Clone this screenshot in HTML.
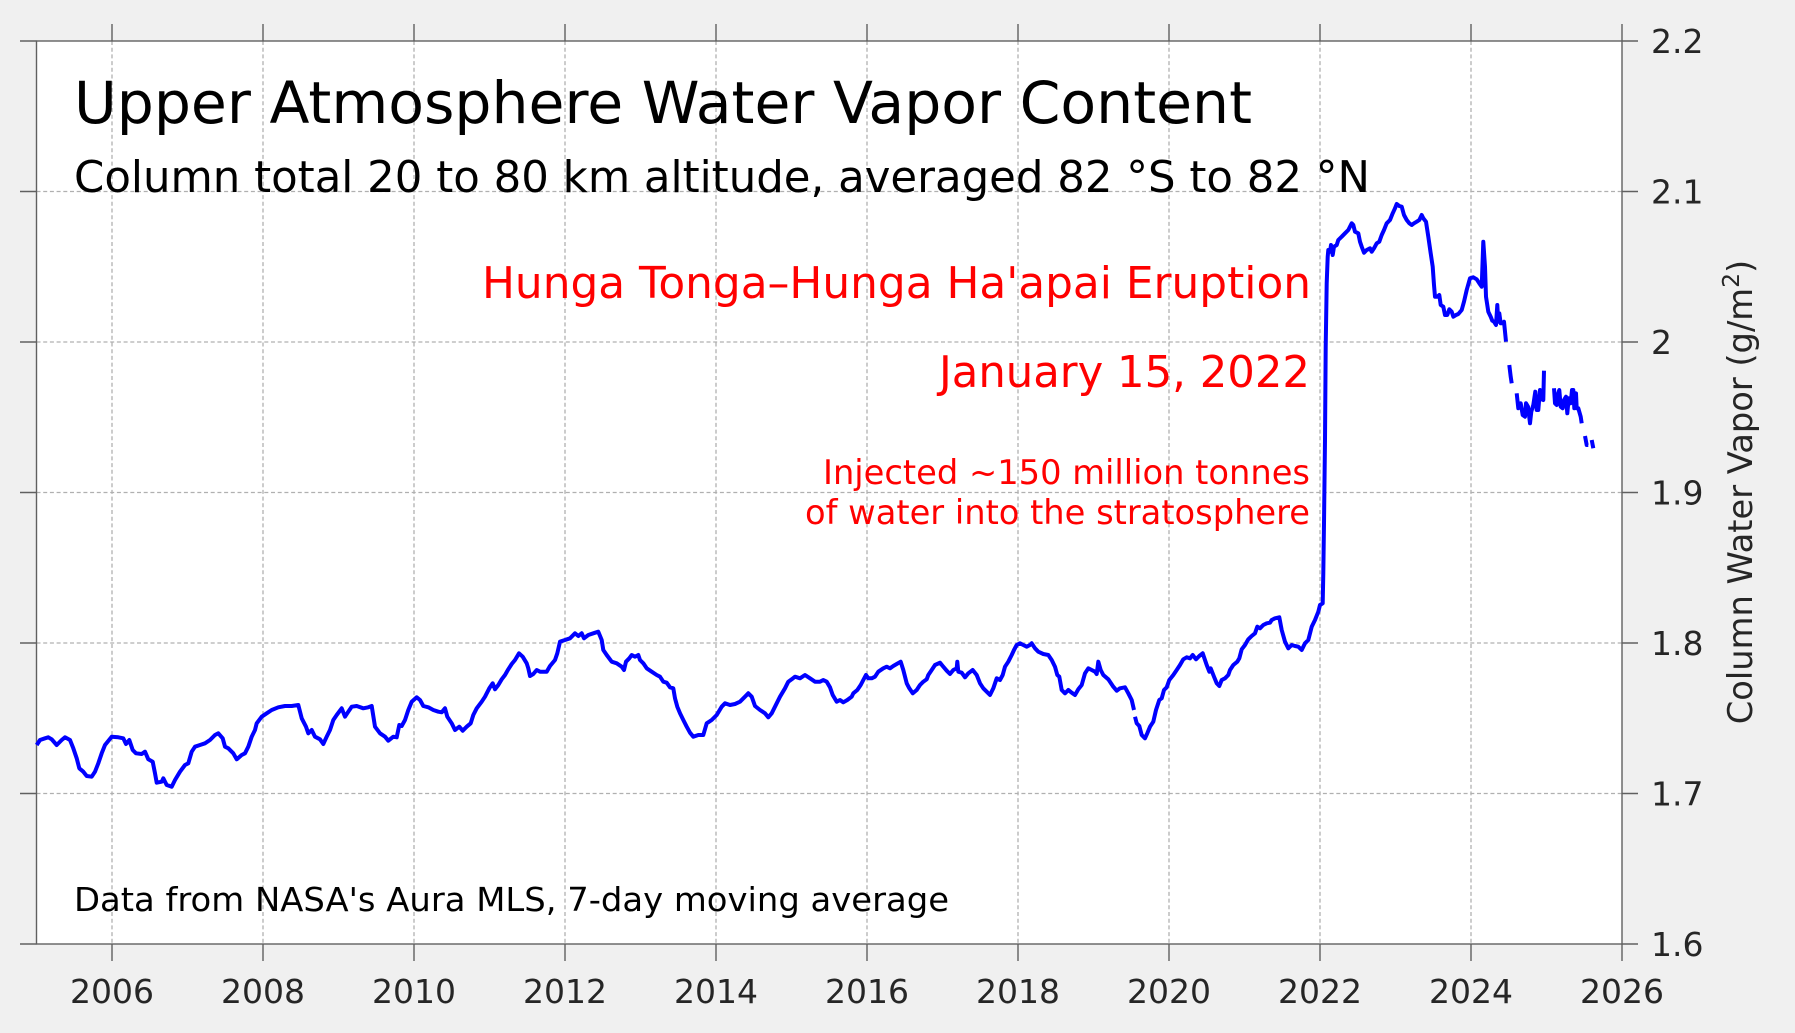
<!DOCTYPE html>
<html><head><meta charset="utf-8"><style>
html,body{margin:0;padding:0;background:#f0f0f0;}
svg{display:block;}
text{font-family:"DejaVu Sans","Liberation Sans",sans-serif;}
</style></head><body>
<svg width="1795" height="1033" viewBox="0 0 1795 1033" xmlns="http://www.w3.org/2000/svg">
<rect x="0" y="0" width="1795" height="1033" fill="#f0f0f0"/>
<rect x="36.5" y="41" width="1585.5" height="903" fill="#ffffff"/>
<g stroke="#b0b0b0" stroke-width="1.3" stroke-dasharray="4 2.7" fill="none">
<line x1="112" y1="41" x2="112" y2="944"/>
<line x1="263" y1="41" x2="263" y2="944"/>
<line x1="414" y1="41" x2="414" y2="944"/>
<line x1="565" y1="41" x2="565" y2="944"/>
<line x1="716" y1="41" x2="716" y2="944"/>
<line x1="867" y1="41" x2="867" y2="944"/>
<line x1="1018" y1="41" x2="1018" y2="944"/>
<line x1="1169" y1="41" x2="1169" y2="944"/>
<line x1="1320" y1="41" x2="1320" y2="944"/>
<line x1="1471" y1="41" x2="1471" y2="944"/>
<line x1="36.5" y1="191.5" x2="1622" y2="191.5"/>
<line x1="36.5" y1="342" x2="1622" y2="342"/>
<line x1="36.5" y1="492.5" x2="1622" y2="492.5"/>
<line x1="36.5" y1="643" x2="1622" y2="643"/>
<line x1="36.5" y1="793.5" x2="1622" y2="793.5"/>
</g>
<g stroke="#606060" stroke-width="1.4" fill="none">
<rect x="36.5" y="41" width="1585.5" height="903"/>
<path d="M112,24V41M263,24V41M414,24V41M565,24V41M716,24V41M867,24V41M1018,24V41M1169,24V41M1320,24V41M1471,24V41M1622,24V41"/>
<path d="M112,944V961M263,944V961M414,944V961M565,944V961M716,944V961M867,944V961M1018,944V961M1169,944V961M1320,944V961M1471,944V961M1622,944V961"/>
<path d="M20,41H36.5M20,191.5H36.5M20,342H36.5M20,492.5H36.5M20,643H36.5M20,793.5H36.5M20,944H36.5"/>
<path d="M1622,41H1638M1622,191.5H1638M1622,342H1638M1622,492.5H1638M1622,643H1638M1622,793.5H1638M1622,944H1638"/>
</g>
<g fill="none" stroke="#0000ff" stroke-width="4" stroke-linejoin="round" stroke-linecap="butt">
<path d="M36.7,745 L40,740 45,738.3 48.3,737.3 51.7,739.3 56.7,745 61.7,740 65,737.3 70,740 73.3,748.3 76.7,758.3 79.3,768.3 83.3,771.7 86.7,776 91.7,776.7 95,771.7 98.3,763.3 101.7,753.3 105,745 111.7,736.7 118.3,737.3 123.3,738.3 126,744 129.3,740 132.7,750 136,753.3 141.7,754 145,751.7 148.3,759.3 152.7,761.7 155,773.3 156.7,782.7 161.7,781.7 163.3,778.3 166.7,785 171.7,786.7 175,780 180,771.7 185,765 188.3,763.3 191.7,751.7 195,746.7 200,745 205,743.3 210,740 215,735 218.3,733.3 222.7,738.3 225,746.7 228.3,748.3 233.3,753.3 236.7,759.3 241.7,755 245,753.3 248.3,746.7 251.7,736.7 255,730 256.7,723.3 261.7,716.7 266.7,713.3 271.7,710 278.3,707.3 285,706 291.7,706 298.3,705 301.7,718.3 306,726.7 308.3,733.3 311.7,730 315,736.7 320,739.3 323.3,744 326.7,736.7 330,730 333.3,720 336.7,715 341.7,708.3 345,716.7 348.3,711.7 351.7,706.7 356.7,706 363.3,708.3 368.3,707.3 371.7,706 375,726.7 380,733.3 385,736.7 388.3,740.7 393.3,736.7 396.7,737.3 399.3,725 401.7,726 405,720 408.3,710 411.7,701.7 416.7,697.3 420,700 423.3,706 428.3,707.3 433.3,710 438.3,711.7 441.7,712.3 445,708.3 447.3,716.7 451.7,723.3 455,730 459.3,726.7 462.7,730.7 466.7,726.7 470.7,723.3 473.3,715 476.7,708.3 481.7,701.7 485,696.7 489.3,688.3 492.7,683.3 495,689.3 498.3,685 501.7,679.3 505,675 508.3,669.3 511.7,664 515,660 519,653.3 522.7,656.7 526.7,663.3 528.3,668.3 530,676 533.3,674 536.7,670 540,671.7 546.7,671.7 550,666 555,660 557.3,653.3 560,641.7 565,640 570,638.3 575,633.3 578.3,636 581.7,633.3 584,638.3 588.3,635 593.3,633.3 598.3,631.7 601.7,640 603.3,650 606.7,655 611.7,661.7 616.7,663.3 621.7,666.7 624,670 626,661.7 629.3,658.3 631.7,655 635,656.7 638.3,655 640,660 643.3,663.3 646.7,668.3 651.7,671.7 656.7,675 660,676.7 663.3,681.7 666.7,682.7 670,687.3 673.3,688.3 675,698.3 677.3,706.7 680,713.3 683.3,720 686.7,726.7 690,732.7 693.3,736.7 698.3,735 703.3,735 706.7,723.3 711.7,720 716.7,715 721.7,706.7 725,703.3 730,705 735,704 740,701.7 745,696.7 748.3,693.3 751.7,696.7 755,706 760,710 765,713.3 768.3,717.3 771.7,713.3 775,706.7 780,696.7 785,688.3 788.3,681.7 791.7,679.3 795,676.7 800,678.3 805,675 810,678.3 815,681.7 820,681.7 823.3,680 826.7,681.7 830,687.3 832.7,695 836.7,701.7 840,700 843.3,702.3 847.3,700 851.7,696.7 853.3,693.3 857.3,690 860.7,685 863.3,680 866,675 868.3,678.3 871.7,678.3 875,676.7 878.3,671.7 883.3,668.3 886.7,666.7 890,668.3 893.3,666 896.7,664 900.7,661.7 903.3,670 906.7,683.3 909.3,688.3 912.7,693.3 916.7,690 920,685 923.3,681.7 926.7,679.3 928.3,675 931.7,670 935,665 940,662.7 942.7,666 946.7,670.7 950,674 953.3,670 956.7,668.3 957.3,661.7 958.3,671.7 961.7,672.7 965,677.3 968.3,673.3 972.7,670 976.7,675 980,683.3 983.3,688.3 986.7,691.7 990,695 993.3,688.3 996.7,678.3 1000,680 1002.7,675 1005,666.7 1008.3,661.7 1011.7,655 1014,650 1016.7,645 1020,643.3 1023.3,645 1026.7,646.7 1030,645 1031.7,643.3 1035,648.3 1038.3,651.7 1043.3,654 1048.3,655 1051.7,660 1055,666.7 1057.3,675 1059.3,676.7 1061.7,690 1065,693.3 1068.3,690 1071.7,692.7 1075,695 1078.3,689.3 1081.7,685 1085,673.3 1088.3,668.3 1091.7,670 1095,671.7 1096.7,674 1098.3,661.7 1100.7,670 1103.3,675 1108.3,679.3 1113.3,686.7 1116.7,690.7 1120,688.3 1125,687.3 1128.3,693.3 1131.7,700 1134,710"/>
<path d="M1135,716.7 L1136.7,723.3 1139.3,726 1141.7,735 1145,738.3 1147.3,733.3 1150,726.7 1153.3,721.7 1156,710 1159.3,700 1161.7,698.3 1164,690 1166.7,687.3 1169.3,680 1173.3,675 1176.7,670 1180,665 1183.3,659.3 1186.7,657.3 1190,658.3 1192.7,655 1196,659.3 1199.3,656 1202.7,653.3 1206.7,665 1209.3,671.7 1210.7,668.3 1214,676.7 1216.7,683.3 1219.3,686 1221.7,680 1225,678.3 1228.3,675 1230,670 1233.3,665 1237.3,661.7 1239.3,658.3 1241.7,649.3 1245,645 1248.3,639.3 1251.7,636 1255,633.3 1257.3,626.7 1260,628.3 1263.3,625 1266.7,623.3 1270,622.7 1271.7,620 1275,618.3 1279.3,617.3 1281.7,630 1285,641.7 1288.3,648.3 1291.7,645 1295,646 1298.3,646.7 1301.7,650 1305,643.3 1308.3,640 1311.7,626.7 1315,620 1318.3,611.7 1320,605 1322.7,603.3 1323.3,573.3 1324,523.3 1325,440 1325.7,346.7 1326.7,283.3 1327.7,256.7 1328.3,250 1330,251.7 1331,245 1332.7,255 1334,246.7 1336.7,245 1338.3,240 1341.7,236.7 1345,233.3 1348.3,230 1351.7,223.3 1353.3,225 1355,231.7 1358.3,233.3 1360,241.7 1361.7,246.7 1364,252.7 1366.7,250 1370,248.3 1371.7,251.7 1374,248.3 1376.7,243.3 1379.3,241.7 1381.7,235 1384,230 1386.7,223.3 1390,220 1392.7,213.3 1395,208.3 1396.7,204 1399.3,206 1401.7,206.7 1404,215 1406.7,220 1409.3,223.3 1411.7,225 1414,223.3 1416.7,221.7 1419.3,220 1421.7,215 1423.3,218.3 1426,221.7 1428.3,236.7 1430.7,253.3 1432.7,266.7 1434,285 1435,296.7 1437.3,296.7 1439.3,295 1440.7,305 1443.3,306.7 1445,315 1447.3,315 1449.3,309.3 1451.7,311.7 1453.3,316.7 1456,315 1458.3,314 1461.7,310 1464,301.7 1466.7,290 1470,278.3 1473.3,277.3 1476.7,279.3 1479.3,283.3 1481.7,286.7 1483.3,241.7 1485,266.7 1486,296.7 1488.3,311.7 1490.7,316.7 1492.3,320.7 1494,321.7 1496,325 1497.3,305 1498.3,321.7 1499.3,313.3 1500.7,323.3 1502.7,323.3 1504,321.7 1505,331.7 1506,341.7"/>
<path d="M1509.3,365 L1510.7,376.7 1511.7,383.3"/>
<path d="M1516.7,393.3 L1518.3,408.3 1520.7,403.3 1522.7,415 1525,416.7 1526,403.3 1528,406.7 1530,423.3 1531.3,411.7 1533.3,405 1535.3,391.7 1536.7,410 1538.3,410 1540,390 1541.7,399.3 1543.3,400 1544,370.7"/>
<path d="M1554,388.3 L1555,403.3 1556.7,405 1557.7,395 1559.3,390 1560.7,406.7 1562.7,408.3 1564,400 1566,396.7 1567.3,413.3 1568.7,398.3 1570.7,403.3 1572,390 1573.3,390 1574.3,408.3 1576,393.3 1576.7,408.3 1578.3,408.3 1580.7,416.7 1581.7,423.3"/>
<path d="M1585,436 L1586.7,445 1588.3,445"/>
<path d="M1591.7,440 L1593.3,448.3"/>
</g>
<g fill="#000">
<text x="74" y="123" font-size="58" textLength="1178" lengthAdjust="spacingAndGlyphs">Upper Atmosphere Water Vapor Content</text>
<text x="74" y="192" font-size="44" textLength="1296" lengthAdjust="spacingAndGlyphs">Column total 20 to 80 km altitude, averaged 82 °S to 82 °N</text>
<text x="74" y="911" font-size="33" textLength="875" lengthAdjust="spacingAndGlyphs">Data from NASA's Aura MLS, 7-day moving average</text>
</g>
<g fill="#ff0000">
<text x="482" y="298" font-size="44" textLength="829" lengthAdjust="spacingAndGlyphs">Hunga Tonga–Hunga Ha'apai Eruption</text>
<text x="939" y="387" font-size="44" textLength="371" lengthAdjust="spacingAndGlyphs">January 15, 2022</text>
<text x="823" y="484" font-size="33.5" textLength="487" lengthAdjust="spacingAndGlyphs">Injected ~150 million tonnes</text>
<text x="805" y="524" font-size="33.5" textLength="505" lengthAdjust="spacingAndGlyphs">of water into the stratosphere</text>
</g>
<g fill="#262626" font-size="33" text-anchor="middle">
<text x="112" y="1003">2006</text>
<text x="263" y="1003">2008</text>
<text x="414" y="1003">2010</text>
<text x="565" y="1003">2012</text>
<text x="716" y="1003">2014</text>
<text x="867" y="1003">2016</text>
<text x="1018" y="1003">2018</text>
<text x="1169" y="1003">2020</text>
<text x="1320" y="1003">2022</text>
<text x="1471" y="1003">2024</text>
<text x="1622" y="1003">2026</text>
</g>
<g fill="#262626" font-size="33">
<text x="1651" y="53">2.2</text>
<text x="1651" y="203.5">2.1</text>
<text x="1651" y="354">2</text>
<text x="1651" y="504.5">1.9</text>
<text x="1651" y="655">1.8</text>
<text x="1651" y="805.5">1.7</text>
<text x="1651" y="956">1.6</text>
</g>
<text transform="translate(1752,492) rotate(-90)" text-anchor="middle" fill="#262626" font-size="33.7">Column Water Vapor (g/m<tspan dy="-13" font-size="23.5">2</tspan><tspan dy="13">)</tspan></text>
</svg>
</body></html>
